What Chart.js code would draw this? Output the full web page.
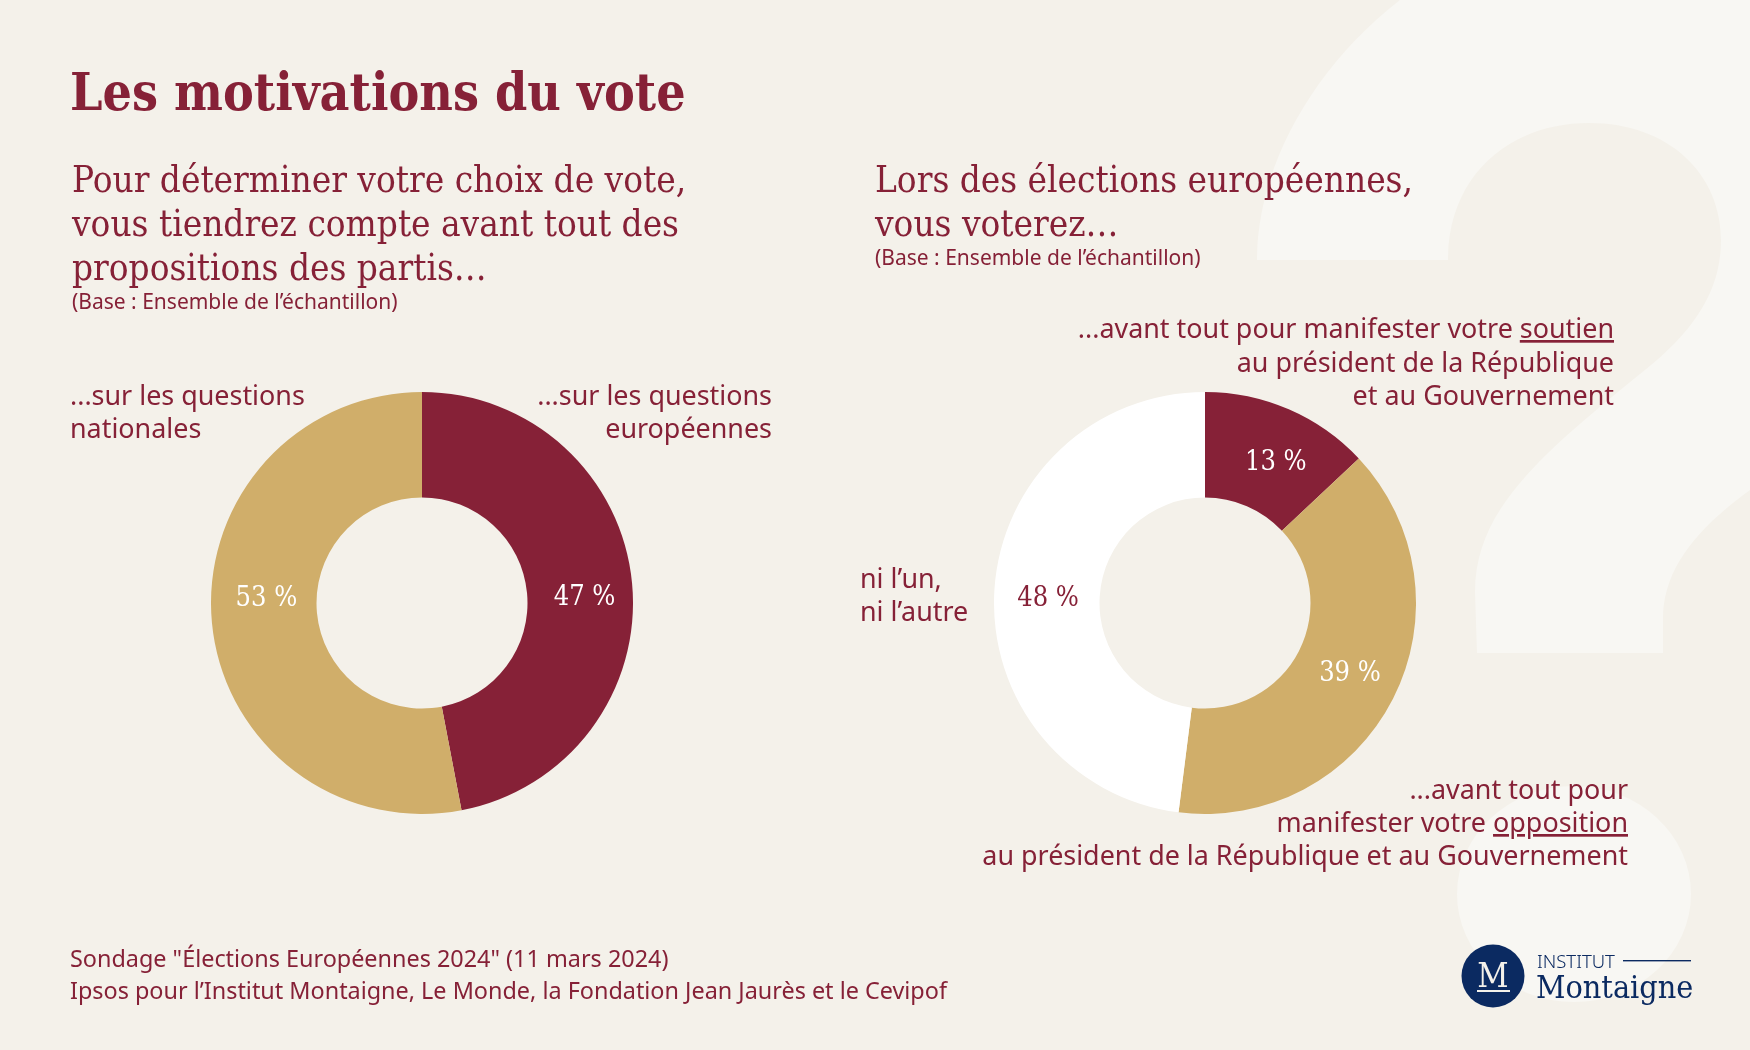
<!DOCTYPE html>
<html lang="fr">
<head>
<meta charset="utf-8">
<title>Les motivations du vote</title>
<script src="https://cdn.jsdelivr.net/npm/chart.js@4"></script>
<style>
  html, body { margin: 0; padding: 0; background: #f4f1ea; }
  #page { position: relative; width: 1750px; height: 1050px; overflow: hidden; background: #f4f1ea; }
  #page svg { position: absolute; left: 0; top: 0; }
  .chart-box { position: absolute; top: 392px; width: 422px; height: 422px; }
  #chartLeft-box { left: 211px; }
  #chartRight-box { left: 994px; }
  text { fill: #862137; }
  .serif { font-family: "DejaVu Serif Condensed", "DejaVu Serif", serif; }
  .sans { font-family: "Noto Sans", sans-serif; }
  .title { font-size: 51.4px; font-weight: 700; }
  .sub { font-size: 36.6px; }
  .base { font-size: 21px; }
  .lab { font-size: 26.9px; }
  .foot { font-size: 23.4px; }
  .end { text-anchor: end; }
  .u { text-decoration: underline; }
</style>
</head>
<body>
<div id="page">
  <!-- background question mark -->
  <svg width="1750" height="1050" viewBox="0 0 1750 1050">
    <path fill="#f8f7f3" d="M1400,0 C1310,70 1257,170 1257,260 L1448,260 C1448,175 1510,123 1589,123 C1670,123 1721,175 1721,240 C1721,290 1695,330 1645,370 C1540,455 1475,510 1475,592 L1477,653 L1663,653 L1663,619 C1663,570 1695,530 1750,490 L1750,0 Z"/>
    <ellipse fill="#f8f7f3" cx="1574" cy="894" rx="117" ry="108"/>
  </svg>

  <div class="chart-box" id="chartLeft-box"><canvas id="chartLeft"></canvas></div>
  <div class="chart-box" id="chartRight-box"><canvas id="chartRight"></canvas></div>

  <svg width="1750" height="1050" viewBox="0 0 1750 1050">
    <text class="serif title" x="70" y="110">Les motivations du vote</text>

    <text class="serif sub" x="72" y="192">Pour déterminer votre choix de vote,</text>
    <text class="serif sub" x="72" y="236">vous tiendrez compte avant tout des</text>
    <text class="serif sub" x="72" y="280">propositions des partis…</text>
    <text class="sans base" x="72" y="309">(Base : Ensemble de l’échantillon)</text>

    <text class="serif sub" x="875" y="192">Lors des élections européennes,</text>
    <text class="serif sub" x="875" y="236">vous voterez…</text>
    <text class="sans base" x="875" y="265">(Base : Ensemble de l’échantillon)</text>

    <text class="sans lab" x="70" y="405">...sur les questions</text>
    <text class="sans lab" x="70" y="438">nationales</text>
    <text class="sans lab end" x="772" y="405">...sur les questions</text>
    <text class="sans lab end" x="772" y="438">européennes</text>

    <text class="sans lab end" x="1614" y="338">...avant tout pour manifester votre <tspan class="u">soutien</tspan></text>
    <text class="sans lab end" x="1614" y="372">au président de la République</text>
    <text class="sans lab end" x="1614" y="405">et au Gouvernement</text>

    <text class="sans lab" x="860" y="588">ni l’un,</text>
    <text class="sans lab" x="860" y="621">ni l’autre</text>

    <text class="sans lab end" x="1628" y="799">...avant tout pour</text>
    <text class="sans lab end" x="1628" y="832">manifester votre <tspan class="u">opposition</tspan></text>
    <text class="sans lab end" x="1628" y="865">au président de la République et au Gouvernement</text>

    <text class="sans foot" x="70" y="967">Sondage "Élections Européennes 2024" (11 mars 2024)</text>
    <text class="sans foot" x="70" y="999">Ipsos pour l’Institut Montaigne, Le Monde, la Fondation Jean Jaurès et le Cevipof</text>

    <!-- logo -->
    <circle cx="1493" cy="976" r="31.5" fill="#0b2a61"/>
    <text class="serif" x="1493" y="987" text-anchor="middle" style="fill:#f4f1ea;font-size:34px">M</text>
    <rect x="1477" y="990" width="33" height="2" fill="#f4f1ea"/>
    <text class="sans" x="1537" y="968" style="fill:#0b2a61;font-size:18.5px;font-weight:300">INSTITUT</text>
    <rect x="1623" y="960" width="68" height="1.4" fill="#0b2a61"/>
    <text class="serif" x="1536" y="998" style="fill:#0b2a61;font-size:32px">Montaigne</text>
  </svg>
</div>

<script>
/* ===== Data ===== */
const partyLabels = ['sur les questions européennes', 'sur les questions nationales'];
const partyValues = [47, 53];
const partyColors = ['#862137', '#d0ae6a'];
const partyTextColors = ['#ffffff', '#ffffff'];

const voteLabels = ['soutien', 'opposition', 'ni l’un, ni l’autre'];
const voteValues = [13, 39, 48];
const voteColors = ['#862137', '#d0ae6a', '#ffffff'];
const voteTextColors = ['#ffffff', '#ffffff', '#862137'];

// Draws "47 %" on each slice, nudged a bit from the arc middle
const sliceLabels = {
  id: 'sliceLabels',
  afterDatasetsDraw(chart, args, opts) {
    const { ctx } = chart;
    const meta = chart.getDatasetMeta(0);
    const values = chart.data.datasets[0].data;
    ctx.save();
    ctx.font = '27px "DejaVu Serif Condensed", "DejaVu Serif", serif';
    ctx.textAlign = 'center';
    ctx.textBaseline = 'middle';
    meta.data.forEach((arc, i) => {
      const pos = arc.tooltipPosition();
      const nudge = opts.nudges[i];
      ctx.fillStyle = opts.colors[i];
      ctx.fillText(values[i] + ' %', pos.x + nudge[0], pos.y + nudge[1]);
    });
    ctx.restore();
  }
};

function makeDonut(id, labels, values, colors, textColors, nudges) {
  return new Chart(document.getElementById(id), {
    type: 'doughnut',
    data: {
      labels: labels,
      datasets: [{ data: values, backgroundColor: colors, borderWidth: 0 }]
    },
    options: {
      responsive: true,
      maintainAspectRatio: false,
      animation: false,
      cutout: '50%',
      layout: { padding: 0 },
      plugins: {
        legend: { display: false },
        tooltip: { enabled: false },
        sliceLabels: { colors: textColors, nudges: nudges }
      }
    },
    plugins: [sliceLabels]
  });
}

makeDonut('chartLeft', partyLabels, partyValues, partyColors, partyTextColors, [[5, 10], [2, -19]]);
makeDonut('chartRight', voteLabels, voteValues, voteColors, voteTextColors, [[8, 5], [4, -1], [1, 6]]);
</script>
</body>
</html>
